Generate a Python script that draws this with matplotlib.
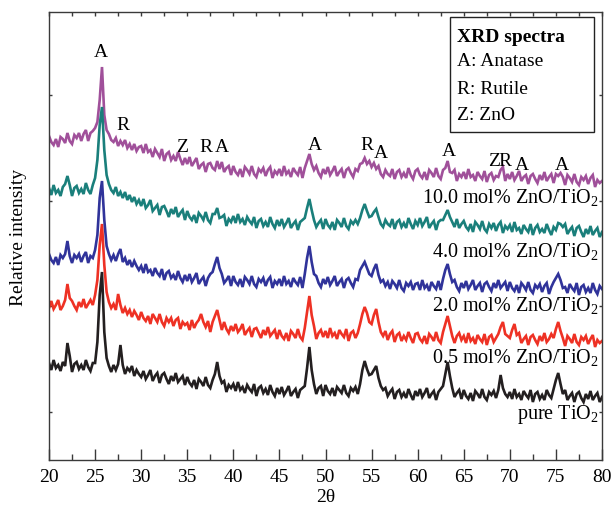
"""
xrd_stacked_plot.py
Stacked XRD spectra of pure TiO2 and ZnO/TiO2 samples, with phase labels.
"""

import numpy as np
import matplotlib
matplotlib.use("Agg")
import matplotlib.pyplot as plt
from matplotlib.patches import Rectangle


# 2theta grid (deg), 0.25 step from 20 to 80
two_theta = np.round(np.arange(20.0, 80.0 + 1e-9, 0.25), 2)

# stacked intensities (a.u., already offset), one list per sample
pure_tio2 = [
    97, 90, 100, 92, 95, 89, 98, 94, 117, 104, 88, 96, 98, 91, 95, 90, 100, 93, 89, 97,
    97, 118, 165, 188, 128, 102, 94, 88, 95, 90, 96, 115, 95, 86, 92, 89, 94, 84, 90, 86,
    83, 89, 81, 85, 90, 79, 84, 87, 77, 85, 87, 81, 76, 84, 79, 87, 78, 81, 84, 75,
    83, 77, 74, 80, 71, 81, 78, 74, 83, 75, 72, 80, 86, 98, 84, 77, 79, 68, 75, 72,
    76, 69, 78, 70, 73, 67, 75, 71, 68, 76, 64, 72, 74, 67, 71, 65, 75, 68, 64, 72,
    66, 73, 65, 69, 74, 64, 68, 71, 62, 70, 72, 74, 92, 113, 90, 76, 66, 72, 74, 64,
    75, 69, 66, 72, 64, 73, 70, 67, 75, 67, 64, 72, 69, 73, 66, 76, 90, 99, 91, 85,
    86, 90, 94, 82, 74, 70, 72, 64, 68, 71, 61, 68, 70, 63, 67, 62, 71, 65, 60, 69,
    64, 71, 63, 67, 72, 62, 66, 69, 60, 68, 71, 74, 86, 98, 84, 72, 63, 67, 70, 61,
    70, 64, 61, 67, 59, 69, 66, 62, 71, 63, 60, 68, 65, 69, 62, 70, 85, 72, 66, 63,
    68, 61, 71, 63, 66, 60, 69, 65, 62, 70, 58, 66, 68, 61, 65, 60, 70, 65, 62, 71,
    80, 87, 76, 66, 70, 60, 64, 67, 58, 66, 68, 62, 58, 66, 61, 69, 60, 64, 67, 58,
    63,
]
zno_05 = [
    152, 159, 151, 155, 160, 150, 154, 160, 176, 162, 159, 154, 150, 158, 153, 161, 152, 156, 160, 155,
    165, 180, 215, 236, 195, 168, 158, 152, 156, 150, 166, 155, 147, 152, 146, 150, 143, 149, 145, 140,
    148, 142, 139, 144, 136, 146, 142, 138, 146, 138, 134, 142, 138, 142, 134, 140, 142, 131, 138, 135,
    137, 130, 140, 132, 137, 140, 146, 138, 133, 139, 128, 138, 144, 150, 140, 130, 138, 131, 127, 134,
    129, 136, 128, 131, 136, 125, 129, 132, 123, 131, 132, 127, 122, 130, 125, 133, 124, 127, 130, 121,
    130, 124, 121, 127, 119, 129, 126, 122, 131, 123, 120, 132, 148, 164, 145, 134, 121, 127, 130, 123,
    129, 122, 132, 124, 127, 121, 130, 126, 123, 131, 119, 127, 129, 122, 127, 136, 146, 153, 147, 138,
    136, 145, 151, 138, 128, 124, 129, 120, 126, 129, 118, 125, 127, 119, 124, 120, 128, 122, 117, 126,
    127, 121, 118, 124, 116, 126, 123, 119, 128, 120, 117, 128, 136, 144, 134, 124, 117, 124, 127, 120,
    124, 117, 127, 119, 122, 116, 125, 121, 118, 126, 115, 123, 125, 118, 122, 126, 133, 138, 126, 124,
    122, 130, 136, 125, 127, 117, 121, 124, 115, 123, 125, 120, 116, 124, 119, 127, 118, 121, 126, 122,
    131, 138, 129, 122, 114, 124, 121, 117, 126, 118, 115, 123, 120, 124, 116, 121, 125, 113, 120, 117,
    119,
]
zno_20 = [
    206, 200, 197, 203, 195, 205, 202, 206, 219, 204, 197, 205, 202, 206, 198, 204, 208, 197, 204, 202,
    210, 225, 262, 279, 240, 214, 206, 200, 205, 199, 206, 211, 198, 202, 195, 200, 193, 199, 194, 190,
    194, 187, 196, 188, 190, 184, 192, 187, 184, 191, 180, 187, 189, 182, 185, 180, 189, 182, 178, 185,
    179, 186, 178, 182, 187, 176, 180, 183, 174, 182, 186, 188, 196, 203, 192, 186, 177, 180, 184, 174,
    184, 178, 175, 181, 173, 183, 180, 176, 184, 176, 173, 181, 178, 182, 174, 180, 183, 172, 179, 176,
    181, 174, 184, 176, 179, 173, 182, 178, 175, 183, 172, 186, 202, 214, 198, 186, 184, 177, 173, 181,
    176, 183, 175, 179, 184, 174, 178, 181, 172, 180, 182, 177, 173, 181, 180, 190, 194, 198, 192, 186,
    184, 191, 196, 185, 178, 180, 174, 178, 171, 179, 176, 172, 180, 172, 169, 177, 174, 178, 170, 176,
    177, 170, 180, 172, 175, 169, 178, 174, 171, 179, 170, 181, 190, 196, 186, 178, 180, 173, 169, 177,
    172, 179, 171, 175, 180, 170, 174, 177, 168, 176, 178, 173, 169, 177, 172, 180, 172, 175, 178, 169,
    178, 172, 169, 175, 167, 177, 174, 170, 178, 170, 167, 175, 172, 176, 168, 174, 177, 166, 173, 178,
    182, 186, 180, 172, 173, 167, 176, 172, 169, 177, 165, 173, 175, 168, 172, 167, 177, 170, 166, 174,
    171,
]
zno_40 = [
    272, 265, 275, 267, 270, 264, 273, 276, 284, 275, 264, 272, 274, 267, 271, 266, 277, 270, 266, 275,
    282, 300, 335, 353, 310, 285, 276, 270, 267, 273, 264, 268, 262, 268, 260, 265, 258, 263, 256, 260,
    254, 261, 252, 255, 260, 249, 252, 255, 245, 253, 254, 249, 243, 251, 246, 253, 243, 247, 250, 240,
    249, 243, 240, 245, 237, 247, 244, 240, 248, 240, 237, 246, 246, 252, 242, 243, 245, 234, 241, 238,
    244, 237, 246, 238, 241, 235, 243, 239, 236, 243, 232, 239, 241, 234, 238, 233, 243, 236, 232, 240,
    234, 241, 233, 237, 242, 232, 236, 239, 230, 238, 240, 242, 252, 261, 250, 240, 233, 237, 240, 231,
    241, 235, 232, 238, 230, 240, 237, 233, 242, 234, 231, 239, 236, 240, 236, 242, 250, 256, 249, 243,
    244, 248, 251, 243, 236, 233, 240, 236, 234, 241, 231, 238, 240, 233, 237, 232, 242, 236, 231, 239,
    235, 242, 234, 238, 243, 232, 236, 239, 230, 238, 240, 240, 245, 250, 243, 238, 233, 241, 232, 236,
    239, 233, 230, 236, 228, 238, 235, 231, 239, 231, 228, 236, 232, 237, 229, 235, 238, 227, 234, 231,
    235, 228, 238, 230, 232, 226, 235, 231, 228, 236, 225, 232, 235, 228, 231, 227, 236, 230, 225, 233,
    230, 237, 236, 233, 236, 226, 230, 233, 224, 232, 234, 228, 223, 231, 226, 234, 225, 229, 232, 223,
    228,
]
zno_100 = [
    324, 318, 315, 321, 313, 323, 321, 317, 327, 319, 316, 325, 322, 327, 319, 326, 330, 319, 327, 329,
    332, 338, 360, 393, 345, 330, 326, 320, 318, 322, 314, 319, 315, 320, 312, 316, 310, 316, 309, 313,
    314, 307, 316, 308, 310, 303, 311, 307, 303, 311, 299, 306, 308, 300, 304, 299, 308, 301, 295, 302,
    296, 303, 294, 298, 302, 291, 295, 297, 288, 296, 297, 292, 290, 299, 291, 298, 288, 292, 294, 285,
    294, 288, 285, 291, 283, 293, 290, 286, 294, 286, 283, 291, 288, 292, 284, 290, 293, 282, 289, 286,
    291, 284, 294, 286, 289, 283, 292, 288, 285, 293, 282, 292, 299, 306, 296, 290, 294, 287, 283, 291,
    286, 293, 285, 289, 294, 284, 288, 291, 282, 290, 292, 287, 283, 291, 289, 296, 297, 302, 296, 299,
    293, 297, 291, 294, 286, 283, 290, 286, 284, 291, 281, 288, 290, 283, 287, 282, 292, 285, 281, 289,
    291, 285, 282, 288, 280, 290, 287, 283, 292, 284, 281, 290, 292, 299, 288, 287, 290, 279, 286, 283,
    288, 281, 291, 283, 285, 279, 288, 284, 281, 289, 278, 285, 287, 280, 284, 283, 290, 293, 279, 286,
    281, 288, 280, 284, 289, 279, 283, 285, 276, 284, 286, 281, 277, 285, 280, 288, 279, 283, 286, 277,
    286, 284, 287, 283, 275, 285, 282, 278, 286, 278, 275, 283, 280, 284, 276, 282, 285, 273, 280, 277,
    279,
]

sample_series = [zno_05, pure_tio2, zno_20, zno_100, zno_40]
sample_colors = ["#ee3124", "#231f20", "#30339a", "#a0509a", "#1a7f7b"]

sample_labels = [
    "10.0 mol% ZnO/TiO$_2$",
    "4.0 mol% ZnO/TiO$_2$",
    "2.0 mol% ZnO/TiO$_2$",
    "0.5 mol% ZnO/TiO$_2$",
    "pure TiO$_2$",
]
sample_label_y = [264, 209, 156, 103, 46]

# phase markers: letter, 2theta, height
phase_letters = ["A", "R", "Z", "R", "A", "A", "R", "A", "A", "Z", "R", "A", "A"]
phase_pos = [25.6, 28.0, 34.4, 37.0, 38.8, 48.9, 54.5, 56.0, 63.4, 68.3, 69.5, 71.3, 75.7]
phase_y = [409, 336, 314, 313, 313, 316, 316, 308, 309, 299, 299, 296, 296]

legend_lines = ["A: Anatase", "R: Rutile", "Z: ZnO"]


def main():
    plt.rcParams["font.family"] = ["Liberation Serif", "DejaVu Serif"]
    plt.rcParams["mathtext.fontset"] = "custom"
    plt.rcParams["mathtext.rm"] = "Liberation Serif"
    plt.rcParams["mathtext.it"] = "Liberation Serif:italic"

    fs = 14

    fig = plt.figure(figsize=(6.12, 5.06), dpi=100)
    ax = fig.add_axes([49 / 612, 45 / 506, 553 / 612, 448 / 506])

    for ys, c in zip(sample_series, sample_colors):
        assert len(ys) == len(two_theta)
        ax.plot(two_theta, ys, color=c, linewidth=1.9, solid_joinstyle="miter")

    ax.set_xlim(20, 80)
    ax.set_ylim(0, 448)
    ax.set_xticks(np.arange(20, 81, 5))
    ax.set_xticks(np.arange(22.5, 80, 5), minor=True)
    ax.set_yticks([48, 154, 259, 365])
    ax.set_yticklabels([])

    spine_c = "#3a3a3a"
    for s in ax.spines.values():
        s.set_color(spine_c)
        s.set_linewidth(1.0)

    ax.tick_params(axis="x", which="major", direction="in", length=8, width=1,
                   color=spine_c, labelsize=fs, pad=6)
    ax.tick_params(axis="x", which="minor", direction="in", length=4.5, width=1,
                   color=spine_c)
    ax.tick_params(axis="y", which="major", direction="in", length=2.5, width=1,
                   color=spine_c, left=True, right=True)

    top = ax.secondary_xaxis("top")
    top.set_xticks(np.arange(20, 81, 2.5))
    top.set_xticklabels([])
    top.tick_params(direction="in", length=3, width=1, color=spine_c)
    top.spines["top"].set_visible(False)

    ax.set_xlabel("2\u03b8", fontsize=fs, labelpad=2)
    ax.set_ylabel("Relative intensity", fontsize=fs, labelpad=12)

    for letter, x, y in zip(phase_letters, phase_pos, phase_y):
        ax.text(x, y, letter, fontsize=fs, ha="center", va="center")

    for lab, y in zip(sample_labels, sample_label_y):
        ax.text(79.6, y, lab, fontsize=14.5, ha="right", va="center")

    # legend box
    ax.add_patch(Rectangle((0.725, 0.732), 0.2605, 0.2568, transform=ax.transAxes,
                           fill=False, edgecolor="#222222", linewidth=1.0))
    ax.text(0.738, 0.946, "XRD spectra", transform=ax.transAxes, fontsize=fs,
            fontweight="bold", ha="left", va="center")
    for k, line in enumerate(legend_lines):
        ax.text(0.738, [0.891, 0.830, 0.772][k], line, transform=ax.transAxes,
                fontsize=fs, ha="left", va="center")

    fig.savefig("out.png", dpi=100)
    plt.close(fig)


if __name__ == "__main__":
    main()
